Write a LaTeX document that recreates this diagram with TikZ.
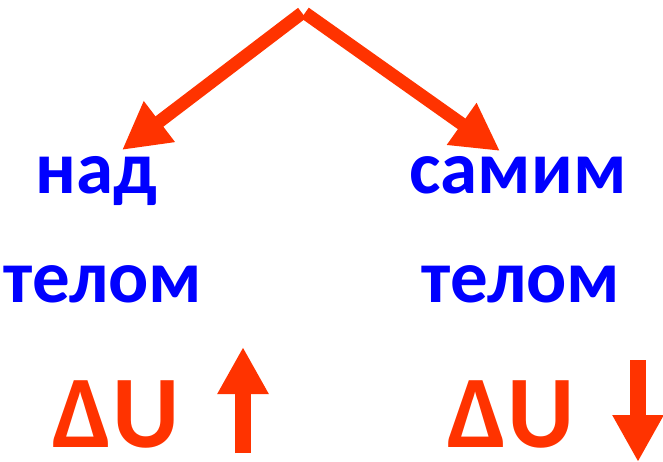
\documentclass[tikz,border=0pt]{standalone}
\usepackage{fontspec}
\setmainfont{Carlito}
\usetikzlibrary{arrows.meta}
\definecolor{myred}{HTML}{FF3300}
\definecolor{myblue}{HTML}{0000FF}
\tikzset{
  bluetxt/.style={text=myblue, font=\fontsize{75}{78}\selectfont\bfseries, inner sep=0pt, anchor=base},
  redtxt/.style={text=myred, font=\fontsize{103}{106}\selectfont\bfseries, inner sep=0pt, text depth=0pt, anchor=base},
  diagarrow/.style={draw=myred, line width=13pt, -{Triangle[length=47pt,width=48pt]}},
  vertarrow/.style={draw=myred, line width=16pt, -{Triangle[length=47pt,width=48pt]}}
}
\begin{document}
\begin{tikzpicture}[x=1pt,y=-1pt]
\useasboundingbox (0,0) rectangle (663,462);
\coordinate (apexL) at (302,13);
\coordinate (apexR) at (305,13);
\coordinate (tipL) at (122,150);
\coordinate (tipR) at (500,151);
\draw[diagarrow] (apexL) -- (tipL);
\draw[diagarrow] (apexR) -- (tipR);
\node[bluetxt] (nad) at (96,194) {над};
\node[bluetxt] (samim) at (518,194) {самим};
\node[bluetxt] (telomL) at (103,302) {телом};
\node[bluetxt] (telomR) at (521,302) {телом};
\node[redtxt] (dUL) at (116,447) {ΔU};
\node[redtxt] (dUR) at (511,447) {ΔU};
\coordinate (upS) at (243,453);
\coordinate (upT) at (243,347);
\coordinate (dnS) at (638,360);
\coordinate (dnT) at (638,462);
\draw[vertarrow] (upS) -- (upT);
\draw[vertarrow] (dnS) -- (dnT);
\end{tikzpicture}
\end{document}
